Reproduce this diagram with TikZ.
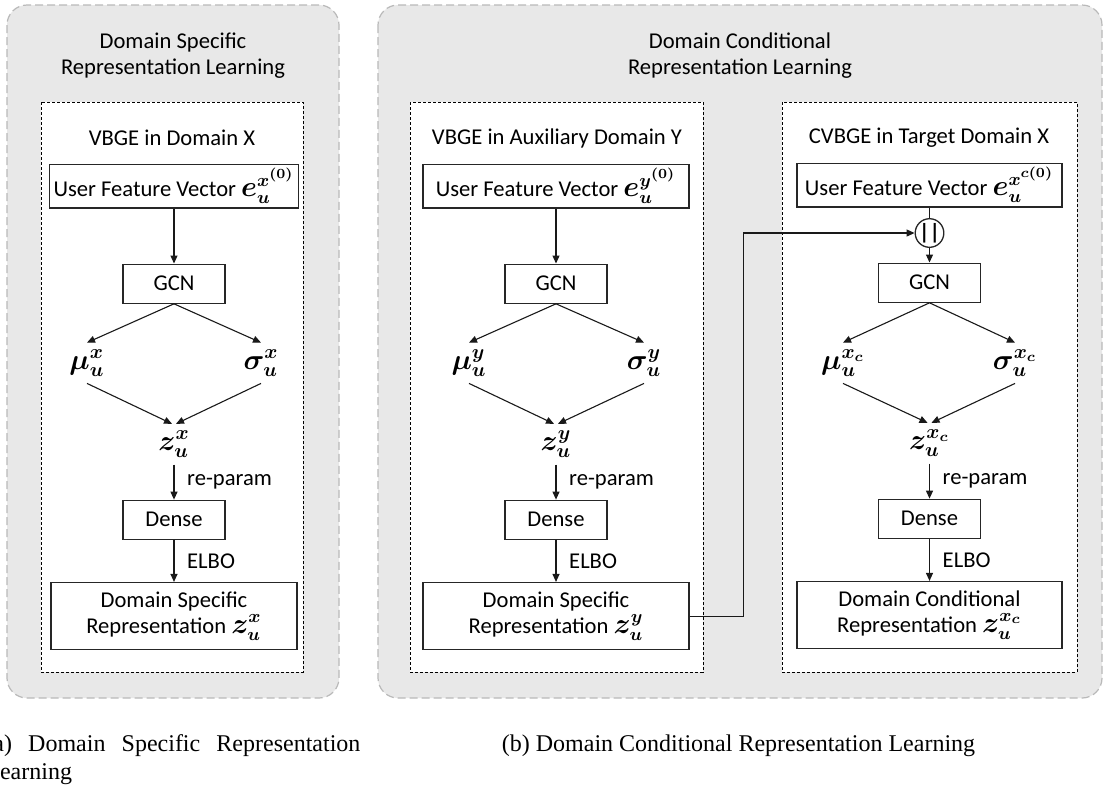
\documentclass[tikz,border=0pt]{standalone}
\usepackage{fontspec}
\setmainfont{Carlito}
\newfontfamily\capfont{Liberation Serif}
\usepackage{amsmath,bm}
\usetikzlibrary{arrows.meta, positioning}

% bold maths, set a little larger than the text
\newcommand{\bmx}[1]{{\fontsize{13.5}{13}\selectfont$\bm{#1}$}}

\begin{document}
\begin{tikzpicture}[
  x=0.5pt, y=-0.5pt,
  font=\fontsize{11.3}{13}\selectfont,
  panel/.style={draw=gray!55, fill=gray!18, line width=0.6pt, dash pattern=on 4pt off 2pt, rounded corners=10pt},
  module/.style={draw=black, fill=white, line width=0.5pt, dash pattern=on 1.5pt off 1pt},
  box/.style={rectangle, draw=black!85, fill=white, line width=0.65pt, minimum height=19.5pt, inner sep=2pt, text centered},
  var/.style={inner sep=0pt, minimum height=20pt, font=\fontsize{14.5}{16}\selectfont},
  concat/.style={circle, draw=black!85, fill=white, line width=0.65pt, minimum size=12pt, inner sep=0pt, font=\fontsize{11}{11}\selectfont\bfseries},
  arrow/.style={line width=0.55pt, draw=black!90, -{Triangle[length=4pt, width=3.5pt]}},
  lbl/.style={midway, right=3pt},
  caption/.style={inner sep=0pt, font=\capfont\fontsize{12}{14}\selectfont}
]
\useasboundingbox (0,0) rectangle (1106,789);

% outer panels
\draw[panel] (7,5) rectangle (339,698);
\draw[panel] (378,5) rectangle (1102,698);
\node (titlea) at (173,56) [align=center] {Domain Specific\\Representation Learning};
\node (titleb) at (740,56) [align=center] {Domain Conditional\\Representation Learning};

% encoders
\draw[module] (41,102) rectangle (303,672);
\draw[module] (410,102) rectangle (703,672);
\draw[module] (782,102) rectangle (1077,672);
\node (namex) at (172,138) {VBGE in Domain X};
\node (namey) at (557,138) {VBGE in Auxiliary Domain Y};
\node (namec) at (929,138) {CVBGE in Target Domain X};

% domain X
\node (ux) [box, minimum width=123pt] at (174,186) {User Feature Vector \bmx{e_u^{x^{(0)}}}};
\node (gcnx) [box, minimum width=51pt, below=27.5pt of ux] {GCN};
\node (mux) [var] at (87,363) {$\bm{\mu_u^x}$};
\node (sigx) [var] at (261,363) {$\bm{\sigma_u^x}$};
\node (zx) [var, below=60pt of gcnx] {$\bm{z_u^x}$};
\node (densex) [box, minimum width=51pt, below=17.5pt of zx] {Dense};
\node (repx) [box, minimum width=123pt, minimum height=33.5pt, align=center, below=21pt of densex] {Domain Specific\\Representation \bmx{z_u^x}};

\draw[arrow] (ux) -- (gcnx);
\draw[arrow] (gcnx.south) -- (mux.north);
\draw[arrow] (gcnx.south) -- (sigx.north);
\draw[arrow] (mux.south) -- ([xshift=-1pt]zx.north);
\draw[arrow] (sigx.south) -- ([xshift=1pt]zx.north);
\draw[arrow] (zx) -- (densex) node[lbl] {re-param};
\draw[arrow] (densex) -- (repx) node[lbl] {ELBO};

% domain Y
\node (uy) [box, minimum width=133pt] at (556,186) {User Feature Vector \bmx{e_u^{y^{(0)}}}};
\node (gcny) [box, minimum width=51pt, below=27.5pt of uy] {GCN};
\node (muy) [var] at (469,363) {$\bm{\mu_u^y}$};
\node (sigy) [var] at (644,363) {$\bm{\sigma_u^y}$};
\node (zy) [var, below=60pt of gcny] {$\bm{z_u^y}$};
\node (densey) [box, minimum width=51pt, below=17.5pt of zy] {Dense};
\node (repy) [box, minimum width=133pt, minimum height=33.5pt, align=center, below=21pt of densey] {Domain Specific\\Representation \bmx{z_u^y}};

\draw[arrow] (uy) -- (gcny);
\draw[arrow] (gcny.south) -- (muy.north);
\draw[arrow] (gcny.south) -- (sigy.north);
\draw[arrow] (muy.south) -- ([xshift=-1pt]zy.north);
\draw[arrow] (sigy.south) -- ([xshift=1pt]zy.north);
\draw[arrow] (zy) -- (densey) node[lbl] {re-param};
\draw[arrow] (densey) -- (repy) node[lbl] {ELBO};

% target domain X, conditioned on Y
\node (uc) [box, minimum width=132.5pt] at (929.5,185) {User Feature Vector \bmx{e_u^{x^{c(0)}}}};
\node (cc) [concat] at (929.5,233) {||};
\node (gcnc) [box, minimum width=51pt, below=27.5pt of uc] {GCN};
\node (muc) [var] at (843,363) {$\bm{\mu_u^{x_c}}$};
\node (sigc) [var] at (1015,363) {$\bm{\sigma_u^{x_c}}$};
\node (zc) [var, below=60pt of gcnc] {$\bm{z_u^{x_c}}$};
\node (densec) [box, minimum width=51pt, below=17.5pt of zc] {Dense};
\node (repc) [box, minimum width=132.5pt, minimum height=33.5pt, align=center, below=21pt of densec] {Domain Conditional\\Representation \bmx{z_u^{x_c}}};

\draw[line width=0.55pt, draw=black!90] (uc) -- (cc);
\draw[arrow] (cc) -- (gcnc);
\draw[arrow] (gcnc.south) -- (muc.north);
\draw[arrow] (gcnc.south) -- (sigc.north);
\draw[arrow] (muc.south) -- ([xshift=-1pt]zc.north);
\draw[arrow] (sigc.south) -- ([xshift=1pt]zc.north);
\draw[arrow] (zc) -- (densec) node[lbl] {re-param};
\draw[arrow] (densec) -- (repc) node[lbl] {ELBO};

% Y representation feeds the conditional encoder
\draw[arrow] (repy.east) -- ++(54,0) |- (cc.west);

% captions
\node (capa) [caption, anchor=north west, text width=187.5pt, align=justify] at (-15,734) {(a) Domain Specific Representation Learning};
\node (capb) [caption, anchor=base] at (738.5,751) {(b) Domain Conditional Representation Learning};
\end{tikzpicture}
\end{document}
